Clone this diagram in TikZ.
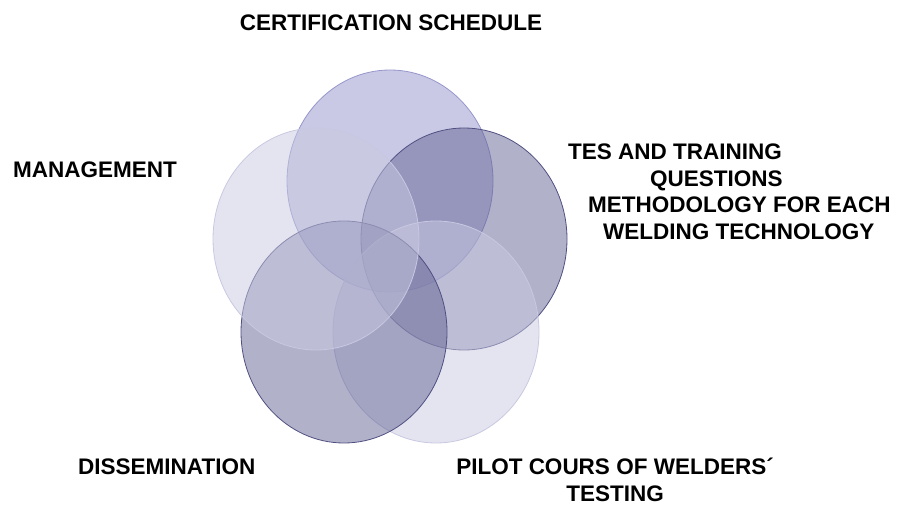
\documentclass[tikz,border=0pt]{standalone}
\usepackage{fontspec}
\setmainfont{Liberation Sans}
\definecolor{petalblue}{RGB}{147,147,203}
\definecolor{petalblueline}{RGB}{150,150,205}
\definecolor{petaldark}{RGB}{99,99,149}
\definecolor{petaldarkline}{RGB}{80,80,130}
\definecolor{petallight}{RGB}{201,201,225}
\definecolor{petallightline}{RGB}{200,200,226}
\tikzset{
    petalmid/.style = {fill=petalblue, fill opacity=0.5, draw=petalblueline, line width=0.8pt},
    petaldeep/.style = {fill=petaldark, fill opacity=0.5, draw=petaldarkline, line width=0.8pt},
    petalpale/.style = {fill=petallight, fill opacity=0.5, draw=petallightline, line width=0.8pt},
    caption/.style = {font=\fontsize{22.5}{26.5}\selectfont\bfseries, inner sep=0pt, text=black}
}

\begin{document}
\begin{tikzpicture}[x=1pt, y=-1pt]
    \useasboundingbox (0,0) rectangle (910,511);
    % centres of the five circles
    \coordinate (C1) at (390,181);
    \coordinate (C2) at (464,239);
    \coordinate (C3) at (436,332);
    \coordinate (C4) at (344,332);
    \coordinate (C5) at (316,239);
    \draw [petalmid]  (C1) ellipse [x radius=103, y radius=111];
    \draw [petaldeep] (C2) ellipse [x radius=103, y radius=111];
    \draw [petalpale] (C3) ellipse [x radius=103, y radius=111];
    \draw [petaldeep] (C4) ellipse [x radius=103, y radius=111];
    \draw [petalpale] (C5) ellipse [x radius=103, y radius=111];
    % labels
    \node [caption] (schedule) at (391,23) {CERTIFICATION SCHEDULE};
    \node [caption, anchor=west] (management) at (13,170) {MANAGEMENT};
    \node [caption, anchor=west, align=left] (questions) at (568,192)
        {TES AND TRAINING\\\hspace*{82pt}QUESTIONS\\\hspace*{20pt}METHODOLOGY FOR EACH\\\hspace*{35pt}WELDING TECHNOLOGY};
    \node [caption, anchor=west] (dissemination) at (78,467) {DISSEMINATION};
    \node [caption, align=center] (pilot) at (615,480) {PILOT COURS OF WELDERS´\\TESTING};
\end{tikzpicture}
\end{document}
